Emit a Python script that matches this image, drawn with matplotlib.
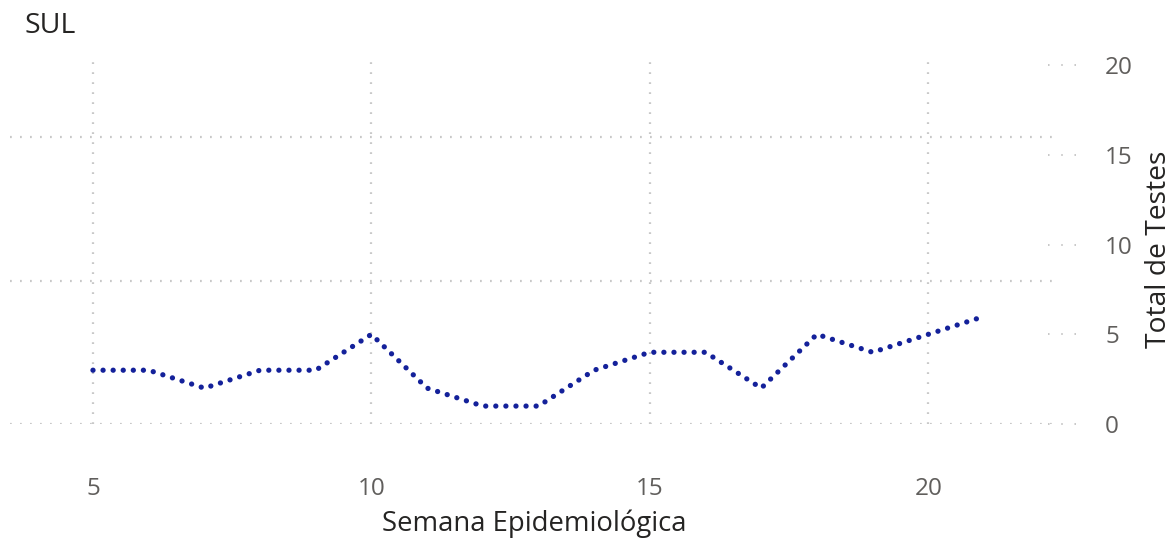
import numpy as np
import matplotlib
matplotlib.use("Agg")
import matplotlib.pyplot as plt
import matplotlib.transforms as mtransforms

plt.rcParams["font.family"] = ["Open Sans", "DejaVu Sans"]

# ---- data ----
semanas = [5, 6, 7, 8, 9, 10, 11, 12, 13, 14, 15, 16, 17, 18, 19, 20, 21]
testes = [3, 3, 2, 3, 3, 5, 2, 1, 1, 3, 4, 4, 2, 5, 4, 5, 6]
x_ticks = [5, 10, 15, 20]
y_ticks = [0, 5, 10, 15, 20]
y_grid = [0, 8, 16]

LINE = "#14219a"
GRID = "#c8c8c8"
TICK = "#605e5c"
DARK = "#252423"

W, H = 1171, 539
fig = plt.figure(figsize=(W / 100, H / 100), dpi=100)
ax = fig.add_axes([10 / W, (H - 424) / H, 1048 / W, 364 / H])

ax.set_xlim(3.51, 22.33)
ax.set_ylim(0, 20.3)

# grid (dotted, light grey)
for v in x_ticks:
    ax.axvline(v, color=GRID, lw=1.6, ls=(0, (0.8, 3.7)), zorder=1)
for v in y_grid:
    ax.axhline(v, color=GRID, lw=1.6, ls=(0, (0.8, 3.7)), zorder=1)

# short dotted marks beside the right-hand tick labels
trans = mtransforms.blended_transform_factory(ax.transAxes, ax.transData)
ax.hlines(y_ticks, 0.990, 1.028, transform=trans, colors=GRID, lw=1.4,
          linestyles=(0, (0.8, 6.0)), clip_on=False, zorder=1)

# dotted series
ax.plot(semanas, testes, color=LINE, lw=3.8, ls=(0, (0.01, 1.9)),
        dash_capstyle="round", zorder=3)

for s in ax.spines.values():
    s.set_visible(False)

ax.set_xticks(x_ticks)
ax.set_yticks(y_ticks)
ax.yaxis.tick_right()
ax.tick_params(axis="x", length=0, pad=38, labelsize=17.5, labelcolor=TICK)
ax.tick_params(axis="y", length=0, pad=34, labelsize=17.5, labelcolor=TICK)
for lab in ax.get_yticklabels():
    lab.set_horizontalalignment("left")

ax.set_xlabel("Semana Epidemiológica", fontsize=19.8, color=DARK, labelpad=6)
fig.text(1159 / W, 1 - 249 / H, "Total de Testes", rotation=90,
         fontsize=20.3, color=DARK, ha="center", va="center")
fig.text(24 / W, 1 - 26 / H, "SUL", fontsize=20.5, color=DARK,
         ha="left", va="center")

fig.savefig("out.png", dpi=100, facecolor="white")
